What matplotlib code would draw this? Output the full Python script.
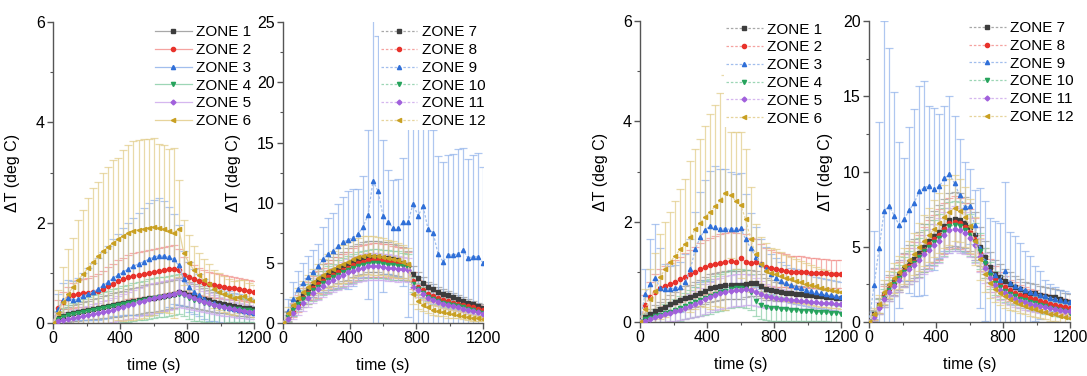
import matplotlib
matplotlib.use("Agg")
import matplotlib.pyplot as plt
import numpy as np
from matplotlib.colors import to_rgb
from matplotlib.ticker import AutoMinorLocator

plt.rcParams['font.family'] = ['Liberation Sans', 'DejaVu Sans']

# time axis (s), one reading every 30 s
time_s = [0, 30, 60, 90, 120, 150, 180, 210, 240, 270, 300, 330, 360, 390, 420,
          450, 480, 510, 540, 570, 600, 630, 660, 690, 720, 750, 780, 810, 840,
          870, 900, 930, 960, 990, 1020, 1050, 1080, 1110, 1140, 1170, 1200]

# ---- panel 1 : zones 1-6 (first run) ----
p1_z1 = [0, .10, .14, .17, .19, .21, .23, .25, .27, .29, .31, .33, .35, .37, .39, .41, .43, .45, .47, .49,
         .50, .52, .53, .55, .57, .62, .60, .56, .53, .50, .47, .45, .42, .40, .38, .36, .34, .32, .30, .29, .28]
p1_z2 = [0, .30, .42, .50, .55, .58, .60, .60, .61, .63, .68, .73, .78, .83, .87, .91, .94, .96, .97, .99,
         1.01, 1.03, 1.05, 1.07, 1.08, 1.05, .96, .92, .88, .83, .80, .77, .75, .73, .71, .70, .69, .67, .65, .63, .62]
p1_z3 = [0, .28, .45, .50, .45, .48, .53, .58, .62, .68, .75, .82, .90, .96, 1.02, 1.08, 1.13, 1.18, 1.22, 1.27,
         1.31, 1.34, 1.33, 1.31, 1.27, 1.15, .88, .72, .62, .55, .48, .42, .40, .36, .33, .30, .28, .26, .23, .21, .19]
p1_z4 = [0, .08, .12, .15, .17, .19, .21, .23, .25, .27, .29, .31, .33, .35, .37, .39, .41, .43, .45, .47,
         .49, .51, .52, .54, .56, .58, .55, .50, .46, .43, .40, .37, .34, .32, .30, .29, .28, .27, .26, .25, .24]
p1_z5 = [0, .03, .05, .07, .09, .11, .13, .15, .17, .19, .21, .23, .26, .29, .32, .35, .38, .41, .44, .47,
         .50, .52, .54, .56, .58, .62, .58, .54, .50, .46, .42, .39, .36, .33, .31, .29, .27, .25, .23, .22, .21]
p1_z6 = [0, .20, .42, .58, .72, .86, .98, 1.10, 1.22, 1.33, 1.43, 1.52, 1.60, 1.67, 1.74, 1.80, 1.84, 1.86, 1.88, 1.90,
         1.92, 1.90, 1.88, 1.84, 1.80, 1.88, 1.40, 1.20, 1.06, .95, .85, .78, .68, .62, .57, .53, .50, .52, .53, .48, .43]

p1_e1 = [0, .12, .14, .15, .16, .17, .18, .19, .20, .21, .22, .23, .24, .25, .25, .26, .27, .27, .28, .28,
         .28, .28, .28, .28, .28, .27, .26, .25, .24, .23, .22, .21, .20, .20, .19, .19, .18, .18, .17, .17, .16]
p1_e2 = [0, .15, .20, .22, .25, .27, .28, .30, .32, .34, .36, .38, .40, .42, .43, .44, .45, .46, .46, .47,
         .47, .47, .47, .47, .47, .42, .35, .30, .28, .27, .26, .25, .25, .24, .24, .23, .23, .22, .22, .22, .21]
p1_e3 = [0, .30, .35, .35, .38, .42, .47, .52, .57, .62, .67, .72, .77, .82, .87, .92, .97, 1.02, 1.07, 1.12,
         1.15, 1.15, 1.10, 1.00, .90, .80, .55, .50, .45, .42, .40, .38, .36, .35, .34, .33, .32, .31, .30, .29, .28]
p1_e4 = [0, .15, .18, .20, .22, .24, .26, .28, .30, .30, .32, .33, .34, .35, .36, .37, .38, .38, .39, .40,
         .40, .40, .40, .40, .40, .40, .42, .42, .42, .40, .38, .36, .34, .32, .30, .28, .26, .25, .24, .23, .22]
p1_e5 = [0, .10, .12, .14, .16, .17, .18, .19, .20, .21, .22, .23, .24, .25, .26, .27, .28, .28, .29, .30,
         .30, .30, .30, .30, .30, .30, .28, .26, .24, .22, .21, .20, .19, .18, .17, .16, .15, .15, .14, .14, .13]
p1_e6 = [0, .45, .70, .90, .97, 1.20, 1.28, 1.39, 1.47, 1.49, 1.56, 1.60, 1.65, 1.62, 1.71, 1.75, 1.79, 1.79, 1.78, 1.77,
         1.76, 1.68, 1.67, 1.64, 1.70, .97, .65, .55, .48, .45, .42, .40, .38, .37, .36, .35, .34, .33, .33, .32, .32]

# ---- panel 2 : zones 7-12 (first run) ----
p2_z7 = [0, .6, 1.3, 1.9, 2.4, 2.8, 3.2, 3.5, 3.8, 4.1, 4.3, 4.5, 4.7, 4.9, 5.1, 5.3, 5.4, 5.5, 5.5, 5.5,
         5.4, 5.4, 5.3, 5.2, 5.0, 4.8, 4.1, 3.7, 3.3, 3.0, 2.8, 2.6, 2.45, 2.3, 2.15, 2.0, 1.85, 1.7, 1.55, 1.4, 1.25]
p2_z8 = [0, .5, 1.1, 1.6, 2.1, 2.5, 2.9, 3.2, 3.5, 3.8, 4.0, 4.2, 4.4, 4.6, 4.8, 5.0, 5.1, 5.2, 5.25, 5.25,
         5.2, 5.15, 5.1, 5.0, 4.9, 4.7, 3.5, 3.0, 2.7, 2.45, 2.25, 2.1, 1.95, 1.8, 1.7, 1.6, 1.5, 1.4, 1.3, 1.2, 1.1]
p2_z9 = [0, 1.0, 2.0, 2.85, 3.35, 3.85, 4.2, 4.7, 5.3, 5.75, 5.95, 6.4, 6.7, 6.9, 7.1, 7.4, 8.0, 9.0, 11.8, 10.95,
         8.9, 8.4, 7.9, 7.9, 8.4, 8.4, 9.9, 8.9, 9.7, 7.8, 7.5, 5.75, 5.1, 5.65, 5.65, 5.75, 6.05, 5.4, 5.5, 5.5, 5.0]
p2_z10 = [0, .5, 1.1, 1.6, 2.0, 2.4, 2.7, 3.0, 3.3, 3.6, 3.8, 4.0, 4.2, 4.4, 4.55, 4.7, 4.8, 4.9, 4.95, 4.95,
          4.9, 4.85, 4.8, 4.75, 4.7, 4.6, 3.2, 2.8, 2.5, 2.2, 2.0, 1.85, 1.7, 1.6, 1.5, 1.4, 1.3, 1.2, 1.05, .95, .85]
p2_z11 = [0, .3, .8, 1.3, 1.7, 2.1, 2.5, 2.8, 3.1, 3.4, 3.6, 3.8, 4.0, 4.2, 4.35, 4.5, 4.6, 4.7, 4.7, 4.7,
          4.65, 4.6, 4.55, 4.5, 4.45, 4.4, 3.0, 2.7, 2.4, 2.1, 1.9, 1.75, 1.6, 1.5, 1.4, 1.3, 1.2, 1.1, 1.0, .9, .77]
p2_z12 = [0, .8, 1.5, 2.1, 2.6, 3.0, 3.4, 3.7, 4.0, 4.3, 4.5, 4.7, 4.9, 5.1, 5.3, 5.5, 5.6, 5.65, 5.6, 5.55,
          5.5, 5.4, 5.3, 5.2, 5.1, 4.9, 2.4, 1.8, 1.5, 1.3, 1.1, 1.0, .9, .8, .75, .7, .6, .5, .45, .38, .33]

p2_e7 = [0, .4, .6, .7, .8, .9, 1.0, 1.0, 1.1, 1.1, 1.2, 1.2, 1.2, 1.3, 1.3, 1.3, 1.3, 1.3, 1.3, 1.3,
         1.3, 1.3, 1.3, 1.3, 1.3, 1.2, .6, .5, .5, .4, .4, .4, .4, .35, .35, .35, .3, .3, .3, .3, .3]
p2_e8 = [0, .4, .6, .7, .8, .9, 1.0, 1.1, 1.1, 1.2, 1.2, 1.3, 1.3, 1.3, 1.4, 1.4, 1.4, 1.4, 1.4, 1.4,
         1.4, 1.4, 1.3, 1.3, 1.3, 1.2, .7, .6, .5, .5, .45, .45, .4, .4, .4, .35, .35, .35, .3, .3, .3]
p2_e9 = [0, 1.0, 1.4, 1.5, 1.6, 1.7, 1.9, 1.9, 2.7, 3.0, 3.2, 3.5, 3.8, 4.1, 4.0, 3.7, 4.2, 7.0, 14.0, 12.9,
         6.3, 4.3, 4.0, 4.1, 5.3, 7.9, 10.0, 9.5, 9.9, 9.0, 8.5, 8.1, 8.3, 8.3, 8.4, 8.7, 8.5, 8.2, 8.5, 8.6, 8.0]
p2_e10 = [0, .4, .5, .6, .7, .8, .9, 1.0, 1.0, 1.1, 1.1, 1.2, 1.2, 1.2, 1.2, 1.2, 1.2, 1.2, 1.2, 1.2,
          1.2, 1.2, 1.2, 1.2, 1.1, 1.1, .6, .5, .45, .4, .4, .35, .35, .35, .3, .3, .3, .3, .3, .25, .25]
p2_e11 = [0, .4, .5, .6, .7, .8, .85, .9, .95, 1.0, 1.0, 1.05, 1.1, 1.1, 1.1, 1.1, 1.1, 1.1, 1.1, 1.1,
          1.1, 1.1, 1.1, 1.1, 1.0, 1.0, .6, .5, .45, .4, .4, .35, .35, .3, .3, .3, .3, .25, .25, .25, .25]
p2_e12 = [0, .5, .7, .8, .9, 1.0, 1.1, 1.2, 1.3, 1.4, 1.45, 1.5, 1.55, 1.6, 1.6, 1.6, 1.6, 1.6, 1.6, 1.6,
          1.55, 1.5, 1.5, 1.45, 1.4, 1.3, .8, .6, .5, .45, .4, .4, .35, .35, .3, .3, .3, .25, .25, .2, .2]

# ---- panel 3 : zones 1-6 (second run) ----
p3_z1 = [0, .10, .16, .22, .26, .30, .35, .40, .44, .48, .50, .54, .58, .62, .67, .70, .72, .73, .73, .74,
         .74, .76, .78, .77, .72, .65, .63, .61, .60, .58, .57, .56, .55, .54, .53, .52, .51, .50, .49, .48, .47]
p3_z2 = [0, .34, .50, .60, .68, .72, .76, .80, .85, .90, .95, 1.00, 1.05, 1.10, 1.13, 1.16, 1.18, 1.20, 1.22, 1.20,
         1.28, 1.20, 1.18, 1.20, 1.15, 1.10, 1.07, 1.05, 1.03, 1.02, 1.00, 1.00, 1.00, .99, .98, .98, .97, .97, .96, .96, .95]
p3_z3 = [0, .56, .76, .88, .68, .66, .66, .68, .70, .80, 1.05, 1.45, 1.70, 1.84, 1.92, 1.90, 1.86, 1.85, 1.85, 1.86,
         1.87, 1.65, 1.47, 1.30, 1.15, 1.05, .95, .88, .81, .77, .73, .70, .67, .64, .61, .59, .57, .55, .53, .51, .49]
p3_z4 = [0, .05, .08, .11, .14, .17, .20, .23, .27, .31, .35, .39, .43, .47, .51, .55, .59, .62, .65, .67,
         .68, .66, .60, .42, .33, .30, .28, .27, .26, .25, .24, .23, .22, .22, .21, .20, .20, .19, .18, .17, .15]
p3_z5 = [0, .03, .06, .09, .12, .15, .18, .21, .24, .28, .32, .36, .40, .45, .50, .54, .57, .60, .62, .63,
         .64, .65, .64, .60, .56, .52, .50, .48, .46, .45, .44, .43, .42, .41, .40, .39, .38, .38, .37, .36, .35]
p3_z6 = [0, .25, .45, .62, .90, 1.05, 1.20, 1.32, 1.45, 1.55, 1.70, 1.85, 1.98, 2.10, 2.20, 2.32, 2.43, 2.58, 2.53, 2.42,
         2.33, 2.05, 1.65, 1.35, 1.15, 1.02, .98, .95, .92, .88, .85, .82, .79, .76, .73, .71, .68, .66, .64, .62, .60]

p3_e1 = [0, .08, .10, .12, .14, .16, .18, .20, .22, .23, .24, .25, .26, .27, .28, .28, .28, .28, .28, .28,
         .28, .27, .26, .25, .24, .22, .20, .19, .18, .17, .17, .16, .16, .15, .15, .15, .14, .14, .14, .13, .13]
p3_e2 = [0, .20, .30, .35, .38, .40, .42, .44, .45, .47, .48, .50, .52, .54, .55, .56, .57, .58, .58, .58,
         .58, .56, .50, .45, .40, .38, .36, .35, .34, .33, .32, .32, .31, .30, .30, .30, .29, .29, .28, .28, .28]
p3_e3 = [0, .50, .90, 1.07, .80, .50, .45, .45, .50, .55, .60, .75, .90, 1.00, 1.10, 1.20, 1.20, 1.20, 1.15, 1.10,
         1.10, .90, .70, .60, .50, .45, .40, .40, .38, .36, .35, .35, .34, .33, .32, .31, .30, .30, .30, .30, .30]
p3_e4 = [0, .10, .12, .14, .16, .18, .20, .22, .24, .26, .28, .30, .32, .34, .35, .36, .37, .38, .38, .38,
         .38, .38, .36, .30, .28, .26, .25, .24, .23, .22, .21, .20, .20, .19, .19, .18, .18, .17, .17, .16, .16]
p3_e5 = [0, .06, .08, .10, .12, .14, .16, .18, .20, .22, .24, .26, .28, .30, .30, .31, .31, .32, .32, .32,
         .32, .31, .30, .28, .26, .24, .22, .20, .19, .18, .17, .17, .16, .16, .15, .15, .15, .14, .14, .14, .13]
p3_e6 = [0, .40, .60, .75, .85, .95, 1.00, 1.10, 1.20, 1.30, 1.50, 1.60, 1.66, 1.80, 1.95, 2.00, 2.13, 2.34, 1.26, 1.37,
         1.46, 1.40, 1.05, .60, .55, .55, .50, .50, .48, .46, .45, .44, .42, .41, .40, .39, .38, .37, .36, .35, .34]

# ---- panel 4 : zones 7-12 (second run) ----
p4_z7 = [0, .5, 1.1, 1.8, 2.3, 2.7, 3.1, 3.5, 3.9, 4.2, 4.6, 5.0, 5.4, 5.7, 6.0, 6.4, 6.8, 6.85, 6.8, 6.6,
         6.3, 5.8, 5.0, 4.3, 3.65, 3.2, 3.0, 2.75, 2.55, 2.35, 2.18, 2.02, 1.95, 1.9, 1.8, 1.73, 1.68, 1.64, 1.55, 1.42, 1.35]
p4_z8 = [0, .45, 1.0, 1.7, 2.2, 2.6, 3.0, 3.4, 3.7, 4.0, 4.4, 4.8, 5.2, 5.5, 5.8, 6.2, 6.55, 6.65, 6.55, 6.3,
         6.0, 5.5, 4.6, 3.9, 3.3, 2.85, 2.55, 2.3, 2.1, 1.95, 1.8, 1.7, 1.6, 1.5, 1.4, 1.3, 1.22, 1.15, 1.07, 1.0, .93]
p4_z9 = [0, 2.46, 4.9, 7.38, 7.73, 7.06, 6.44, 6.82, 7.44, 7.93, 8.7, 8.92, 9.06, 8.84, 9.04, 9.55, 9.81, 9.21, 8.44, 7.62,
         7.7, 6.44, 4.9, 4.07, 3.41, 3.12, 2.79, 3.41, 2.57, 2.4, 2.25, 2.12, 2.0, 1.9, 1.8, 1.7, 1.6, 1.52, 1.45, 1.38, 1.3]
p4_z10 = [0, .4, 1.0, 1.6, 2.1, 2.5, 2.9, 3.3, 3.6, 3.9, 4.3, 4.7, 5.0, 5.3, 5.6, 6.0, 6.35, 6.45, 6.35, 6.1,
          5.8, 5.3, 4.7, 3.9, 3.1, 2.6, 2.3, 2.05, 1.85, 1.7, 1.55, 1.45, 1.35, 1.25, 1.15, 1.05, .95, .87, .78, .7, .62]
p4_z11 = [0, .35, .9, 1.5, 2.0, 2.4, 2.8, 3.2, 3.5, 3.8, 4.1, 4.5, 4.8, 5.1, 5.4, 5.8, 6.1, 6.2, 6.1, 5.9,
          5.6, 5.1, 4.4, 3.6, 2.9, 2.45, 2.15, 1.9, 1.7, 1.55, 1.4, 1.3, 1.2, 1.12, 1.05, .98, .92, .85, .8, .75, .7]
p4_z12 = [0, .55, 1.2, 2.0, 2.5, 2.9, 3.3, 3.7, 4.1, 4.5, 5.0, 5.4, 5.8, 6.2, 6.6, 7.0, 7.3, 7.6, 7.4, 7.0,
          6.4, 5.4, 4.2, 3.2, 2.6, 2.2, 1.9, 1.7, 1.5, 1.35, 1.2, 1.05, .95, .85, .75, .65, .55, .5, .42, .35, .28]

p4_e7 = [0, .3, .5, .7, .8, .9, 1.0, 1.1, 1.2, 1.3, 1.4, 1.5, 1.6, 1.7, 1.8, 1.8, 1.8, 1.8, 1.8, 1.7,
         1.6, 1.5, 1.3, 1.1, 1.0, .9, .85, .8, .75, .7, .7, .65, .65, .6, .6, .6, .55, .55, .55, .5, .5]
p4_e8 = [0, .3, .5, .7, .8, .9, 1.0, 1.1, 1.2, 1.3, 1.4, 1.5, 1.6, 1.6, 1.7, 1.7, 1.7, 1.7, 1.7, 1.6,
         1.5, 1.4, 1.2, 1.0, .9, .85, .8, .75, .7, .7, .65, .65, .6, .6, .55, .55, .55, .5, .5, .5, .5]
p4_e9 = [0, 3.6, 8.4, 12.6, 10.5, 8.2, 5.5, 4.1, 5.5, 6.2, 7.0, 7.1, 5.3, 5.4, 4.8, 4.8, 5.2, 4.5, 3.7, 3.0,
         2.5, 2.3, 4.0, 4.0, 3.5, 3.6, 3.8, 5.9, 3.4, 3.3, 3.0, 2.6, 2.4, 1.8, 1.6, 1.1, .9, .8, .7, .7, .6]
p4_e10 = [0, .3, .5, .6, .7, .8, .9, 1.0, 1.1, 1.2, 1.3, 1.4, 1.5, 1.5, 1.6, 1.6, 1.6, 1.6, 1.6, 1.5,
          1.4, 1.3, 1.2, 1.0, .9, .8, .75, .7, .65, .6, .6, .55, .55, .5, .5, .5, .45, .45, .45, .4, .4]
p4_e11 = [0, .3, .4, .5, .6, .7, .8, .9, 1.0, 1.1, 1.2, 1.3, 1.4, 1.4, 1.5, 1.5, 1.5, 1.5, 1.5, 1.4,
          1.3, 1.2, 1.1, 1.0, .9, .8, .7, .65, .6, .55, .5, .5, .45, .45, .45, .4, .4, .4, .35, .35, .35]
p4_e12 = [0, .4, .6, .8, .9, 1.0, 1.1, 1.2, 1.3, 1.4, 1.6, 1.7, 1.8, 1.9, 2.0, 2.1, 2.2, 2.2, 2.1, 2.0,
          1.8, 1.6, 1.4, 1.2, 1.0, .9, .8, .75, .7, .65, .6, .55, .55, .5, .5, .45, .45, .4, .4, .4, .35]

zone_colors = ['#3d3d3d', '#e8322b', '#2f6fd8', '#26a35c', '#a160dc', '#c9a022']
zone_markers = ['s', 'o', '^', 'v', 'D', '<']


def lighten(c, f=0.55):
    r = np.array(to_rgb(c))
    return tuple(r + (1 - r) * f)


def draw_panel(ax, labels, means, errs, ls, ymax, ystep, leg_x, leg_y):
    for lab, y, e, c, m in zip(labels, means, errs, zone_colors, zone_markers):
        ax.errorbar(time_s, y, yerr=e, fmt='none', ecolor=lighten(c, 0.45), alpha=0.7,
                    elinewidth=0.9, capsize=3, capthick=0.9, zorder=2)
        ax.plot(time_s, y, linestyle=ls, lw=0.9, color=lighten(c), marker=m,
                ms=3.0 if m != 'D' else 2.5, mfc=c, mec=c, label=lab, zorder=3)
    ax.set_xlim(0, 1200)
    ax.set_ylim(0, ymax)
    ax.set_xticks([0, 400, 800, 1200])
    ax.set_yticks(np.arange(0, ymax + 0.01, ystep))
    ax.xaxis.set_minor_locator(AutoMinorLocator(2))
    ax.yaxis.set_minor_locator(AutoMinorLocator(2))
    for s in ['top', 'right']:
        ax.spines[s].set_visible(False)
    for s in ['left', 'bottom']:
        ax.spines[s].set_color('#555555')
        ax.spines[s].set_linewidth(1.0)
    ax.tick_params(which='major', direction='out', length=4, width=1, color='#555555', labelsize=11.5, pad=2)
    ax.tick_params(which='minor', direction='out', length=2.5, width=0.8, color='#555555')
    ax.set_xlabel('time (s)', fontsize=11.5)
    ax.set_ylabel('ΔT (deg C)', fontsize=11.5)
    ax.xaxis.set_label_coords(0.5, -0.115)
    leg = ax.legend(loc='upper left', bbox_to_anchor=(leg_x, leg_y), frameon=True, facecolor='white',
                    edgecolor='none', framealpha=1, fancybox=False, borderpad=0.1, borderaxespad=0,
                    handlelength=2.4, handletextpad=0.3, labelspacing=0.25, fontsize=11)
    leg.set_zorder(10)
    return ax


fig = plt.figure(figsize=(10.87, 3.76), dpi=100)
ax1 = fig.add_axes([0.0488, 0.141, 0.185, 0.800])
ax2 = fig.add_axes([0.2604, 0.141, 0.184, 0.800])
ax3 = fig.add_axes([0.5888, 0.1436, 0.185, 0.8005])
ax4 = fig.add_axes([0.7995, 0.1436, 0.185, 0.8005])

labels_a = ['ZONE 1', 'ZONE 2', 'ZONE 3', 'ZONE 4', 'ZONE 5', 'ZONE 6']
labels_b = ['ZONE 7', 'ZONE 8', 'ZONE 9', 'ZONE 10', 'ZONE 11', 'ZONE 12']
dash = (0, (2.0, 1.5))

draw_panel(ax1, labels_a, [p1_z1, p1_z2, p1_z3, p1_z4, p1_z5, p1_z6],
           [p1_e1, p1_e2, p1_e3, p1_e4, p1_e5, p1_e6], '-', 6, 2, 0.50, 0.995)
draw_panel(ax2, labels_b, [p2_z7, p2_z8, p2_z9, p2_z10, p2_z11, p2_z12],
           [p2_e7, p2_e8, p2_e9, p2_e10, p2_e11, p2_e12], dash, 25, 5, 0.48, 0.995)
draw_panel(ax3, labels_a, [p3_z1, p3_z2, p3_z3, p3_z4, p3_z5, p3_z6],
           [p3_e1, p3_e2, p3_e3, p3_e4, p3_e5, p3_e6], dash, 6, 2, 0.42, 1.0)
draw_panel(ax4, labels_b, [p4_z7, p4_z8, p4_z9, p4_z10, p4_z11, p4_z12],
           [p4_e7, p4_e8, p4_e9, p4_e10, p4_e11, p4_e12], dash, 20, 5, 0.49, 1.005)

ax1.yaxis.set_label_coords(-0.165, 0.5)
ax2.yaxis.set_label_coords(-0.21, 0.5)
ax3.yaxis.set_label_coords(-0.16, 0.5)
ax4.yaxis.set_label_coords(-0.18, 0.5)

fig.savefig('out.png', dpi=100)
